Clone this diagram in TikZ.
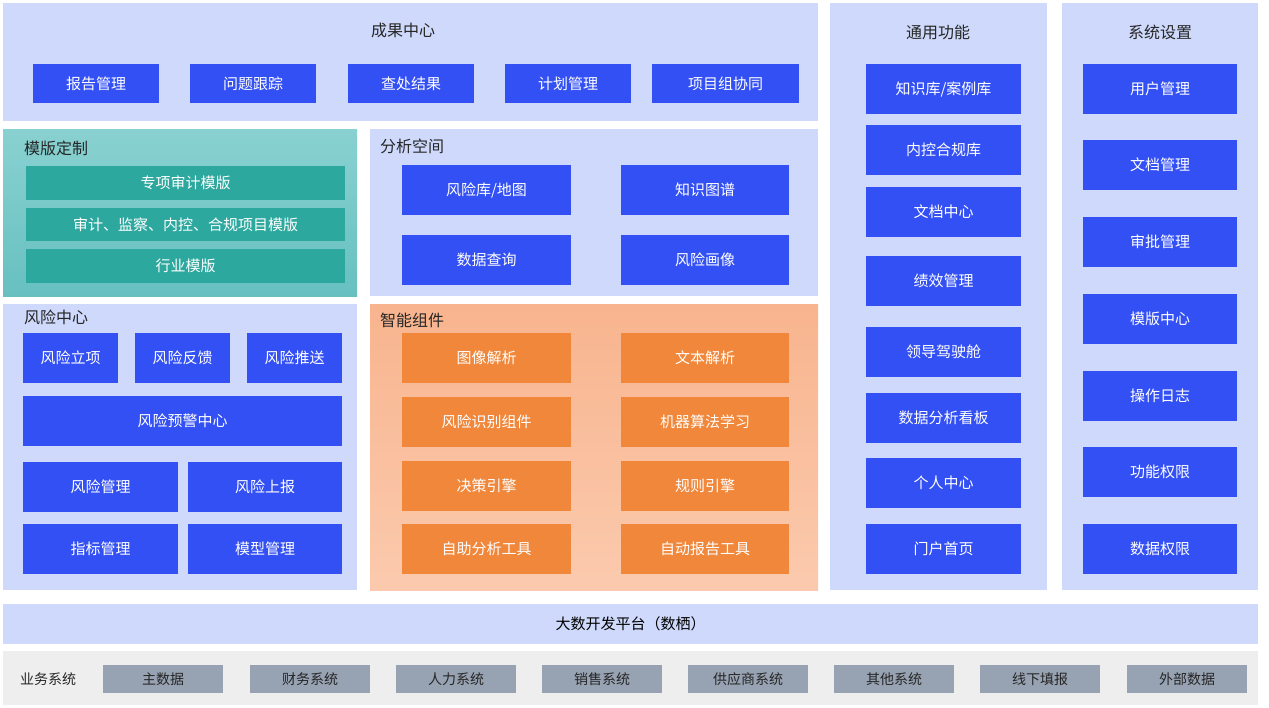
\documentclass[tikz,border=0pt]{standalone}
\usepackage{fontspec}
\setmainfont{Noto Sans CJK SC}
\begin{document}
\begin{tikzpicture}[x=1pt,y=-1pt,
  panel/.style={fill=panelc,draw=none,inner sep=0pt,outer sep=0pt},
  box/.style={fill=bluec,text=white,font=\fontsize{15}{16}\selectfont,inner sep=0pt,outer sep=0pt},
  tbox/.style={fill=tealbox,text=white,font=\fontsize{15}{16}\selectfont,inner sep=0pt,outer sep=0pt},
  obox/.style={fill=orgbox,text=white,font=\fontsize{15}{16}\selectfont,inner sep=0pt,outer sep=0pt},
  gbox/.style={fill=graybox,text=black!85,font=\fontsize{14}{15}\selectfont,inner sep=0pt,outer sep=0pt},
  ttl/.style={text=black!85,font=\fontsize{16}{17}\selectfont,inner sep=0pt}]
\definecolor{panelc}{HTML}{CED9FB}
\definecolor{bluec}{HTML}{3350F5}
\definecolor{tealbox}{HTML}{2DA89E}
\definecolor{orgbox}{HTML}{F0873A}
\definecolor{graybox}{HTML}{97A2B2}
\definecolor{graypan}{HTML}{EEEEEE}
\newcommand\bx[7]{\node[#1,minimum width={(#4-#2)*1pt},minimum height={(#5-#3)*1pt}] (#6) at ({(#2+#4)/2},{(#3+#5)/2}) {#7};}
\useasboundingbox (0,0) rectangle (1269,707);
\fill[white] (0,0) rectangle (1269,707);
% panels
\bx{panel}{3}{3}{818}{121}{p1}{}
\bx{panel}{830}{3}{1047}{590}{p2}{}
\bx{panel}{1062}{3}{1258}{590}{p3}{}
\shade[top color=teal!40!white!90!cyan, bottom color=teal!55!white!90!cyan] (3,129) rectangle (357,296);
\coordinate (p4) at (3,129);
\bx{panel}{370}{129}{818}{296}{p5}{}
\bx{panel}{3}{304}{357}{590}{p6}{}
\shade[top color={rgb,255:red,248;green,180;blue,142}, bottom color={rgb,255:red,251;green,202;blue,174}] (370,304) rectangle (818,590);
\coordinate (p7) at (370,304);
\bx{panel}{3}{604}{1258}{644}{p8}{\fontsize{15}{16}\selectfont 大数开发平台（数栖）}
\node[fill=graypan,inner sep=0pt,minimum width=1255pt,minimum height=54pt] (p9) at (630.5,678) {};
% titles
\node[ttl] (t1) at (403,30) {成果中心};
\node[ttl] (t2) at (938,32) {通用功能};
\node[ttl] (t3) at (1160,32) {系统设置};
\node[ttl,anchor=west] (t4) at (24,148) {模版定制};
\node[ttl,anchor=west] (t5) at (380,146) {分析空间};
\node[ttl,anchor=west] (t6) at (24,317) {风险中心};
\node[ttl,anchor=west] (t7) at (380,320) {智能组件};
\node[ttl,anchor=west,font=\fontsize{14}{15}\selectfont] (t8) at (20,679) {业务系统};
% 成果中心
\bx{box}{33}{64}{159}{103}{a1}{报告管理}
\bx{box}{190}{64}{316}{103}{a2}{问题跟踪}
\bx{box}{348}{64}{474}{103}{a3}{查处结果}
\bx{box}{505}{64}{631}{103}{a4}{计划管理}
\bx{box}{652}{64}{799}{103}{a5}{项目组协同}
% 模版定制
\bx{tbox}{26}{166}{345}{200}{m1}{专项审计模版}
\bx{tbox}{26}{208}{345}{241}{m2}{审计、监察、内控、合规项目模版}
\bx{tbox}{26}{249}{345}{283}{m3}{行业模版}
% 分析空间
\bx{box}{402}{165}{571}{215}{f1}{风险库/地图}
\bx{box}{621}{165}{789}{215}{f2}{知识图谱}
\bx{box}{402}{235}{571}{285}{f3}{数据查询}
\bx{box}{621}{235}{789}{285}{f4}{风险画像}
% 风险中心
\bx{box}{23}{333}{118}{383}{r1}{风险立项}
\bx{box}{135}{333}{230}{383}{r2}{风险反馈}
\bx{box}{247}{333}{342}{383}{r3}{风险推送}
\bx{box}{23}{396}{342}{446}{r4}{风险预警中心}
\bx{box}{23}{462}{178}{512}{r5}{风险管理}
\bx{box}{188}{462}{342}{512}{r6}{风险上报}
\bx{box}{23}{524}{178}{574}{r7}{指标管理}
\bx{box}{188}{524}{342}{574}{r8}{模型管理}
% 智能组件
\bx{obox}{402}{333}{571}{383}{z1}{图像解析}
\bx{obox}{621}{333}{789}{383}{z2}{文本解析}
\bx{obox}{402}{397}{571}{447}{z3}{风险识别组件}
\bx{obox}{621}{397}{789}{447}{z4}{机器算法学习}
\bx{obox}{402}{461}{571}{511}{z5}{决策引擎}
\bx{obox}{621}{461}{789}{511}{z6}{规则引擎}
\bx{obox}{402}{524}{571}{574}{z7}{自助分析工具}
\bx{obox}{621}{524}{789}{574}{z8}{自动报告工具}
% 通用功能
\bx{box}{866}{64}{1021}{114}{g1}{知识库/案例库}
\bx{box}{866}{125}{1021}{175}{g2}{内控合规库}
\bx{box}{866}{187}{1021}{237}{g3}{文档中心}
\bx{box}{866}{256}{1021}{306}{g4}{绩效管理}
\bx{box}{866}{327}{1021}{377}{g5}{领导驾驶舱}
\bx{box}{866}{393}{1021}{443}{g6}{数据分析看板}
\bx{box}{866}{458}{1021}{508}{g7}{个人中心}
\bx{box}{866}{524}{1021}{574}{g8}{门户首页}
% 系统设置
\bx{box}{1083}{64}{1237}{114}{s1}{用户管理}
\bx{box}{1083}{140}{1237}{190}{s2}{文档管理}
\bx{box}{1083}{217}{1237}{267}{s3}{审批管理}
\bx{box}{1083}{294}{1237}{344}{s4}{模版中心}
\bx{box}{1083}{371}{1237}{421}{s5}{操作日志}
\bx{box}{1083}{447}{1237}{497}{s6}{功能权限}
\bx{box}{1083}{524}{1237}{574}{s7}{数据权限}
% 业务系统
\bx{gbox}{103}{665}{223}{693}{b1}{主数据}
\bx{gbox}{250}{665}{370}{693}{b2}{财务系统}
\bx{gbox}{396}{665}{516}{693}{b3}{人力系统}
\bx{gbox}{542}{665}{662}{693}{b4}{销售系统}
\bx{gbox}{688}{665}{808}{693}{b5}{供应商系统}
\bx{gbox}{834}{665}{954}{693}{b6}{其他系统}
\bx{gbox}{980}{665}{1100}{693}{b7}{线下填报}
\bx{gbox}{1127}{665}{1247}{693}{b8}{外部数据}
\end{tikzpicture}
\end{document}
